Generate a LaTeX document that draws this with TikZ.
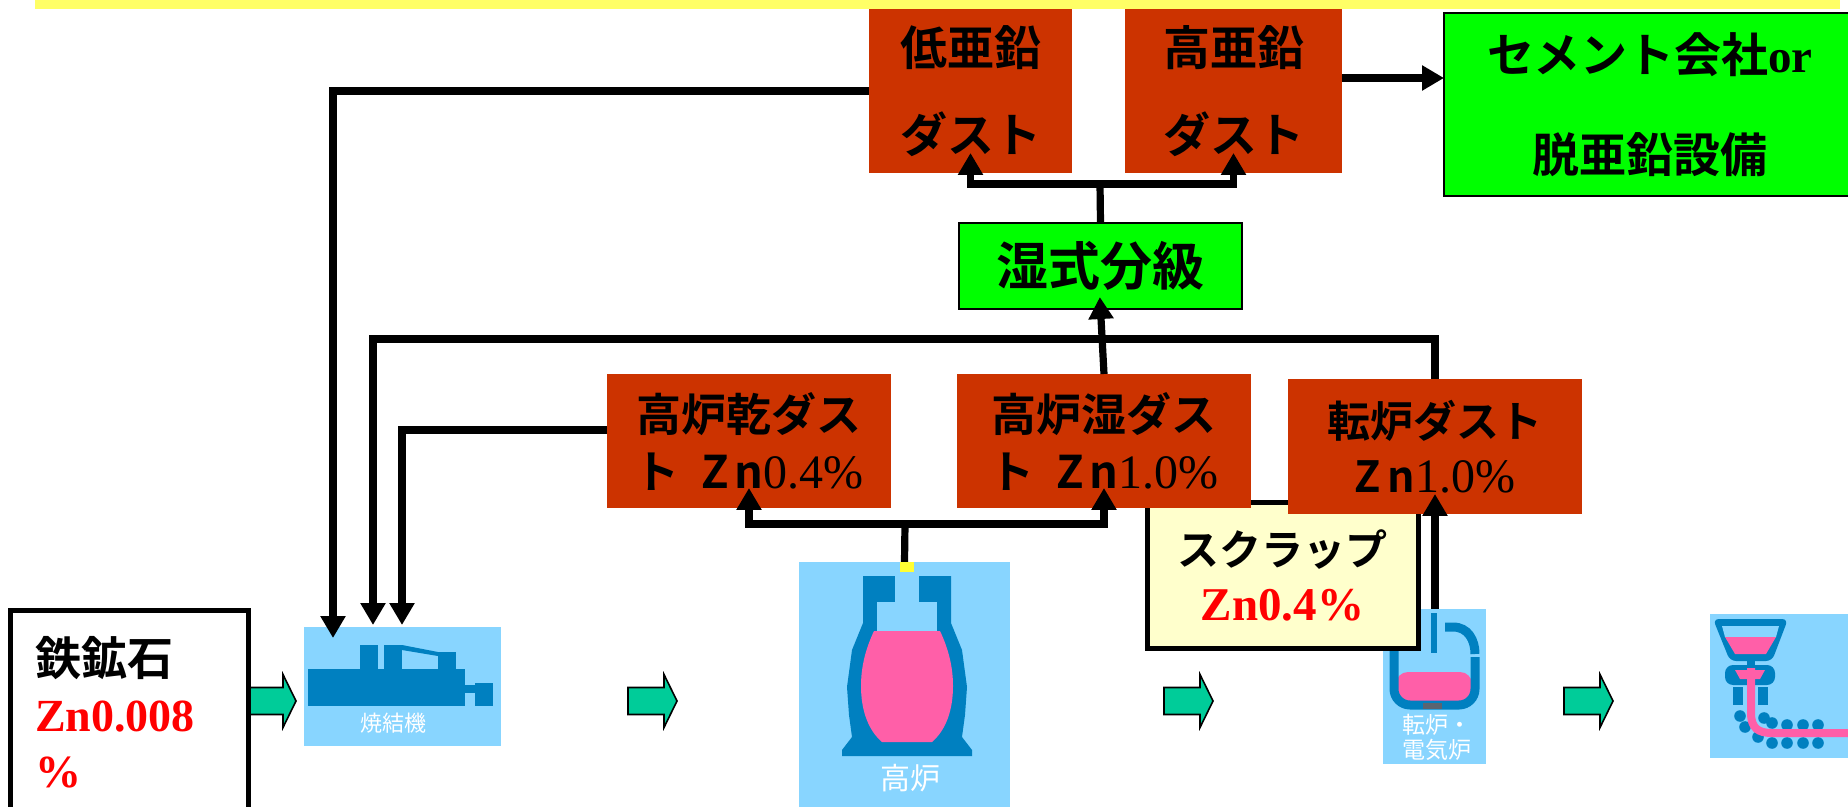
\documentclass[tikz,border=0pt]{standalone}
\usepackage{fontspec}
\setmainfont{Liberation Serif}
\newfontfamily\jp{Noto Sans CJK JP}
\IfFontExistsTF{Noto Sans CJK JP Bold}
  {\newfontfamily\jpb{Noto Sans CJK JP Bold}}
  {\newfontfamily\jpb{Noto Sans CJK JP}[FakeBold=2]}
\usetikzlibrary{arrows.meta}

\definecolor{dustred}{HTML}{CC3300}
\definecolor{procgreen}{HTML}{00FF00}
\definecolor{iconblue}{HTML}{88D5FF}
\definecolor{machineblue}{HTML}{0080C0}
\definecolor{meltpink}{HTML}{FF5FA8}
\definecolor{scrapyellow}{HTML}{FFFFCC}
\definecolor{banneryellow}{HTML}{FFFF66}
\definecolor{arrowgreen}{HTML}{00CC99}
\definecolor{tapgrey}{HTML}{5A6470}
\definecolor{markyellow}{HTML}{FFFF33}

\tikzset{
  flowarrow/.pic={
    \draw[fill=arrowgreen, draw=black, line width=0.8pt]
      (0,-13.5) -- (36,-13.5) -- (36,-26.5) -- (49,0) -- (36,26.5)
      -- (36,13.5) -- (0,13.5) -- cycle;
  }
}

\begin{document}
\begin{tikzpicture}[x=0.5pt, y=-0.5pt,
  box/.style={rectangle, inner sep=0pt, outer sep=0pt, align=center},
  dust/.style={box, fill=dustred},
  greenbox/.style={box, fill=procgreen, draw=black, line width=1pt},
  framed/.style={box, draw=black, line width=2.5pt},
  iconbg/.style={rectangle, fill=iconblue, inner sep=0pt, outer sep=0pt},
  conn/.style={draw=black, line width=3.6pt},
  flowtip/.style={-{Triangle[length=11pt,width=12pt]}},
  tipinside/.style={shorten >=-10pt},
  blk/.style={fill=machineblue},
  melt/.style={fill=meltpink},
  icontext/.style={text=white, inner sep=0pt, outer sep=0pt},
  bigjp/.style={font=\jpb\fontsize{23.5pt}{43.5pt}\selectfont},
  dustjp/.style={font=\jpb\fontsize{22.5pt}{28.5pt}\selectfont}
]
\useasboundingbox (0,0) rectangle (1848,807);
\clip (0,0) rectangle (1848,807);

% banner strip along the top edge
\fill[banneryellow] (35,0) rectangle (1840,9);

% ---------- process icons ----------
% sintering machine
\node[iconbg, minimum width=98.5pt, minimum height=59.5pt] (sinter) at (402.5,686.5) {};
\fill[blk] (308,669) rectangle (465,706);
\fill[blk] (360,645) rectangle (378,669);
\fill[blk] (384,645) rectangle (402,669);
\fill[blk] (402,645) -- (438,652) -- (438,656) -- (402,650) -- cycle;
\fill[blk] (438,652) rectangle (456,669);
\fill[blk] (465,685) rectangle (475,693);
\fill[blk] (475,683) rectangle (493,706);
\node[icontext, font=\jp\fontsize{11pt}{12pt}\selectfont] (sintertxt) at (393,723) {焼結機};

% blast furnace
\node[iconbg, minimum width=105.5pt, minimum height=126.5pt] (bf) at (904.5,688.5) {};
\fill[blk] (863,576) -- (951,576) -- (951,623) -- (962,650) -- (967,687)
  -- (965,715) -- (962,737) -- (972,750) -- (972,756) -- (842,756)
  -- (842,750) -- (852,737) -- (849,715) -- (847,687) -- (852,650)
  -- (863,623) -- cycle;
\fill[iconblue] (895,576) rectangle (919,603);
\fill[iconblue] (877,602) rectangle (937,632);
\fill[melt] (874,631) -- (940,631) .. controls (949,650) and (953,668) .. (953,686)
  .. controls (953,710) and (946,730) .. (932,742) -- (882,742)
  .. controls (868,730) and (861,710) .. (861,686)
  .. controls (861,668) and (865,650) .. (874,631) -- cycle;
\node[icontext, font=\jp\fontsize{15pt}{16pt}\selectfont] (bftxt) at (910,778) {高炉};

% converter / electric furnace
\node[iconbg, minimum width=51.5pt, minimum height=77.5pt] (bof) at (1434.5,686.5) {};
\fill[melt, rounded corners=6pt] (1396,672) rectangle (1472,706);
\draw[machineblue, line width=4.5pt, rounded corners=8pt]
  (1394,618) -- (1394,705) -- (1475,705) -- (1475,657);
\draw[machineblue, line width=4.5pt]
  (1445,627) -- (1453,627) .. controls (1468,627) and (1475,640) .. (1475,654);
\fill[blk] (1431,613) rectangle (1437,653);
\fill[tapgrey] (1423,703) rectangle (1442,709);
\node[icontext, align=left, anchor=west, font=\jp\fontsize{11.5pt}{12.5pt}\selectfont]
  (boftxt) at (1402,737.5) {転炉・\\電気炉};

% continuous caster
\node[iconbg, minimum width=73pt, minimum height=72pt] (cc) at (1783,686) {};
\fill[blk, rounded corners=3pt] (1713,619) -- (1788,619) -- (1772,661) -- (1730,661) -- cycle;
\fill[iconblue] (1722,626) -- (1779,626) -- (1776,637) -- (1725,637) -- cycle;
\fill[melt] (1725,637) -- (1776,637) -- (1766,654) -- (1735,654) -- cycle;
\fill[blk] (1747,658) rectangle (1755,666);
\fill[blk, rounded corners=4pt] (1725,665) -- (1775,665) -- (1775,685) -- (1725,685) -- cycle;
\fill[melt] (1735,670) -- (1765,670) -- (1760,679) -- (1740,679) -- cycle;
\fill[blk] (1733,687) rectangle (1743,705);
\fill[blk] (1758,687) rectangle (1768,705);
\foreach \p in {(1740,716),(1745,727),(1758,737),(1772,743),(1787,743),(1803,743),
                (1818,743),(1764,718),(1772,723),(1787,725),(1803,725),(1818,725)}
  \fill[blk] \p circle[radius=2.9pt];
\draw[meltpink, line width=4pt]
  (1751,668) -- (1751,713) .. controls (1751,728) and (1758,733) .. (1772,733) -- (1856,733);

% ---------- flow arrows between stages ----------
\pic at (247,701) {flowarrow};
\pic at (628,701) {flowarrow};
\pic at (1164,701) {flowarrow};
\pic at (1564,701) {flowarrow};

% ---------- material boxes ----------
\node[framed, fill=white, minimum width=119pt, minimum height=102.5pt,
      text width=94pt, inner xsep=12.5pt, align=left,
      font=\fontsize{23pt}{28pt}\selectfont] (ore) at (129,712.5)
  {{\jpb 鉄鉱石}\\{\color{red}\bfseries Zn0.008}\\{\color{red}\bfseries\%}};

\node[framed, fill=scrapyellow, minimum width=135.5pt, minimum height=72.5pt,
      font=\jpb\fontsize{21pt}{27.5pt}\selectfont] (scrap) at (1282.5,575.5)
  {スクラップ\\{\rmfamily\bfseries\fontsize{23.5pt}{27.5pt}\selectfont\color{red}Zn0.4\%}};

\node[dust, dustjp, minimum width=142pt, minimum height=67pt] (bfdry) at (749,441)
  {高炉乾ダス\\ト\hspace{0.5em}Z\hspace{0.12em}n{\rmfamily\fontsize{24pt}{28.5pt}\selectfont 0.4\%}};
\node[dust, dustjp, minimum width=147pt, minimum height=67pt] (bfwet) at (1104,441)
  {高炉湿ダス\\ト\hspace{0.5em}Z\hspace{0.12em}n{\rmfamily\fontsize{24pt}{28.5pt}\selectfont 1.0\%}};
\node[dust, font=\jpb\fontsize{21.5pt}{27.5pt}\selectfont, minimum width=147pt, minimum height=67.5pt]
  (cvd) at (1435,446.5)
  {転炉ダスト\\Z\hspace{0.15em}n{\rmfamily\fontsize{24pt}{27.5pt}\selectfont 1.0\%}};

\node[greenbox, font=\jpb\fontsize{26pt}{30pt}\selectfont, minimum width=141.5pt, minimum height=43pt]
  (wet) at (1100.5,266) {湿式分級};

\node[dust, bigjp, minimum width=101.5pt, minimum height=82pt] (low) at (970.5,91) {低亜鉛\\ダスト};
\node[dust, bigjp, minimum width=108.5pt, minimum height=82pt] (high) at (1233.5,91) {高亜鉛\\ダスト};

\node[greenbox, font=\jpb\fontsize{23.5pt}{50pt}\selectfont, minimum width=206pt, minimum height=91.5pt]
  (cement) at (1650,104.5) {セメント会社{\rmfamily\bfseries or}\\脱亜鉛設備};

% ---------- connectors ----------
\coordinate (s1) at (333,638);
\coordinate (s2) at (373,625);
\coordinate (s3) at (402,625);
\coordinate (loopcorner) at (373,339);
\coordinate (wsplit) at (1100,184);
\coordinate (bsplit) at (905,524);

\draw[conn, flowtip] (low.west) -| (s1);
\draw[conn, flowtip] (cvd.north) |- (loopcorner) -- (s2);
\draw[conn, flowtip] (bfdry.west |- 0,430) -| (s3);
\draw[conn, flowtip] (high.east |- 0,78) -- (cement.west |- 0,78);

\draw[conn] (wet.north) -- (wsplit);
\draw[conn, flowtip, tipinside] (wsplit) -| (low.south);
\draw[conn, flowtip, tipinside] (wsplit) -| (high.south);
\draw[conn, flowtip, shorten >=-6pt] (bfwet.north) -- (wet.south);

\draw[conn] (bf.north) -- (bsplit);
\draw[conn, flowtip, tipinside] (bsplit) -| (bfdry.south);
\draw[conn, flowtip, tipinside] (bsplit) -| (bfwet.south);
\draw[conn, flowtip, tipinside] (bof.north -| cvd.south) -- (cvd.south);

% top outlet marker of the blast furnace
\fill[markyellow] (900,562) rectangle (914,572);
\end{tikzpicture}
\end{document}
